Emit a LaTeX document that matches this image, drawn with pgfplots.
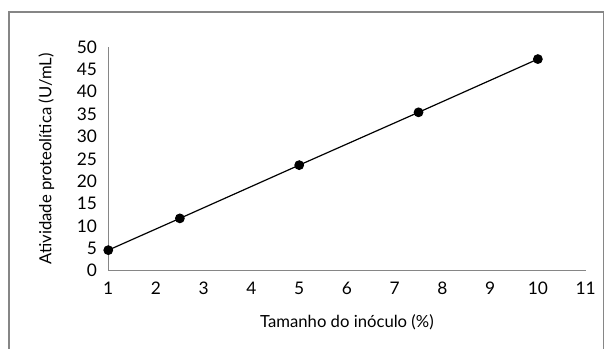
\documentclass[border=0pt]{standalone}
\usepackage{pgfplots}
\pgfplotsset{compat=1.18}
\usepackage{fontspec}
\setmainfont{Lato}
\definecolor{axgray}{RGB}{134,134,134}
\begin{document}
\begin{tikzpicture}[x=1pt,y=1pt]
\useasboundingbox (0,0) rectangle (453,261.75);
\draw[axgray,line width=0.8pt] (6.75,-5) rectangle (452.4,252.75);
\begin{axis}[
  at={(81.2pt,58.7pt)}, anchor=origin,
  scale only axis, width=358pt, height=167.8pt,
  xmin=1, xmax=11, ymin=0, ymax=50,
  xtick={1,...,11}, ytick={0,5,...,50},
  axis x line=bottom, axis y line=left,
  axis line style={axgray, line width=0.8pt, -},
  major tick length=0pt,
  tick style={draw=none},
  /pgf/number format/assume math mode=true,
  ticklabel style={font=\fontsize{13}{14}\selectfont},
  xticklabel style={yshift=-5pt},
  yticklabel style={xshift=-5pt},
  xlabel={Tamanho do inóculo (\%)},
  ylabel={Atividade proteolítica (U/mL)},
  label style={font=\fontsize{12.5}{14}\selectfont},
  xlabel style={yshift=-8pt},
  ylabel style={yshift=10pt},
  clip=false,
]
\addplot[black, line width=0.9pt, mark=*, mark size=3.2pt] coordinates {
(1,4.6) (2.5,11.7) (5,23.6) (7.5,35.4) (10,47.3)
};
\end{axis}
\end{tikzpicture}
\end{document}
